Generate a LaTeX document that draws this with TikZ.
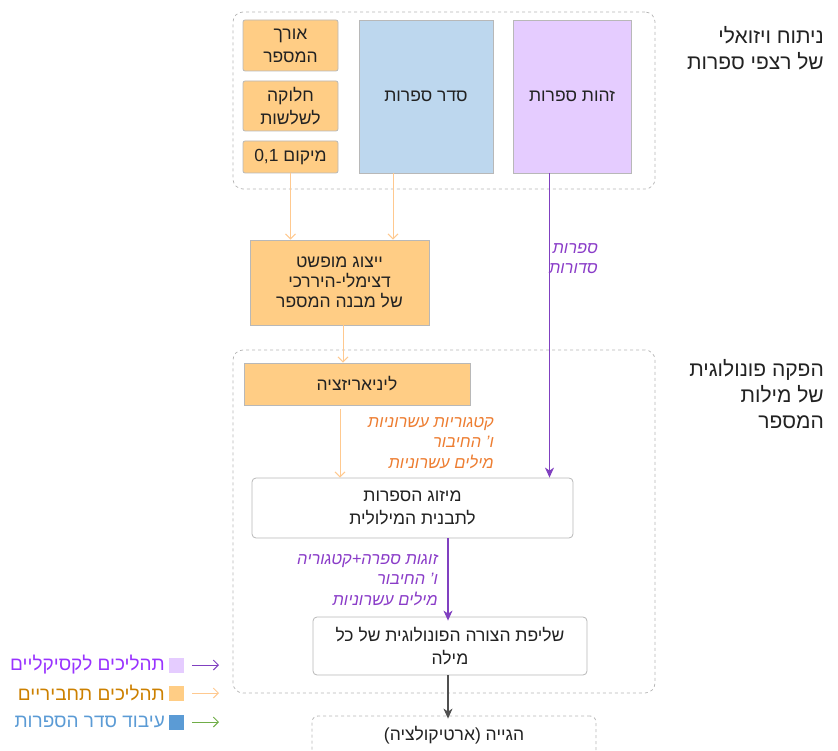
\documentclass[tikz,border=0pt]{standalone}
\usepackage{fontspec}
\setmainfont{Liberation Sans}[Script=Hebrew]
\TeXXeTstate=1
\usetikzlibrary{arrows.meta}
\definecolor{orfill}{HTML}{FFCD85}
\definecolor{blfill}{HTML}{BDD7EE}
\definecolor{pufill}{HTML}{E5CCFF}
\definecolor{bordgr}{HTML}{B8B8B8}
\definecolor{grpgr}{HTML}{B4B4B4}
\definecolor{orarrow}{HTML}{FFC98F}
\definecolor{puarrow}{HTML}{8040C0}
\definecolor{orlabel}{HTML}{ED7D31}
\definecolor{pulabel}{HTML}{8A3CC8}
\definecolor{legpu}{HTML}{9933FF}
\definecolor{legor}{HTML}{CC8000}
\definecolor{legbl}{HTML}{5B9BD5}
\definecolor{leggr}{HTML}{70AD47}
\definecolor{dkarrow}{HTML}{505050}
\definecolor{txt}{HTML}{222222}
\newcommand\Rt[1]{\beginR#1\endR}
\tikzset{
  base/.style={draw=bordgr, line width=0.8pt, text=txt, font=\fontsize{17.5}{23}\selectfont, align=center, inner sep=2pt},
  obox/.style={base, fill=orfill, rounded corners=2pt},
  bbox/.style={base, fill=blfill},
  pbox/.style={base, fill=pufill},
  wbox/.style={base, fill=white, rounded corners=4pt},
  dbox/.style={base, fill=white, rounded corners=6pt, dashed},
  grp/.style={draw=grpgr, dashed, line width=0.7pt, rounded corners=10pt},
  title/.style={align=right, text=txt, font=\fontsize{21}{26}\selectfont, inner sep=0pt},
  lbl/.style={align=right, font=\fontsize{16.5}{20.5}\selectfont\itshape, inner sep=0pt},
  orarr/.style={draw=orarrow, line width=1pt, -{Straight Barb[length=5pt,width=10pt]}},
  puarr/.style={draw=puarrow, line width=1.2pt, -{Stealth[length=10pt,width=9pt,inset=3pt]}},
  dkarr/.style={draw=dkarrow, line width=1.2pt, -{Stealth[length=10pt,width=9pt,inset=3pt]}},
  legtxt/.style={anchor=east, inner sep=0pt, font=\fontsize{19}{22}\selectfont},
}
\begin{document}
\begin{tikzpicture}[x=1pt,y=-1pt]
\useasboundingbox (0,0) rectangle (838,751);
\clip (0,0) rectangle (838,751);
% groups
\node[grp, minimum width=422pt, minimum height=177pt] (g1) at (444,100.5) {};
\node[grp, minimum width=422pt, minimum height=343pt] (g2) at (444,521.5) {};
% top boxes
\node[obox, minimum width=95pt, minimum height=51pt] (len) at (290.5,45.5) {\Rt{אורך}\\\Rt{המספר}};
\node[obox, minimum width=95pt, minimum height=50pt] (split) at (290.5,106) {\Rt{חלוקה}\\\Rt{לשלשות}};
\node[obox, minimum width=95pt, minimum height=32pt] (pos) at (290.5,157) {\Rt{מיקום \beginL 0,1\endL}};
\node[bbox, minimum width=134pt, minimum height=153pt] (order) at (426,96.5) {\Rt{סדר ספרות}};
\node[pbox, minimum width=118pt, minimum height=153pt] (ident) at (572,96.5) {\Rt{זהות ספרות}};
% middle
\node[obox, rounded corners=0pt, minimum width=179pt, minimum height=85pt, font=\fontsize{17.5}{20}\selectfont] (abs) at (339.5,282.5) {\Rt{ייצוג מופשט}\\\Rt{דצימלי-היררכי}\\\Rt{של מבנה המספר}};
\node[obox, rounded corners=0pt, minimum width=226pt, minimum height=42pt] (lin) at (357,384) {\Rt{ליניאריזציה}};
\node[wbox, minimum width=321pt, minimum height=60pt] (miz) at (412.5,508) {\Rt{מיזוג הספרות}\\\Rt{לתבנית המילולית}};
\node[wbox, minimum width=274pt, minimum height=58pt] (ret) at (450,646) {\Rt{שליפת הצורה הפונולוגית של כל}\\\Rt{מילה}};
\node[dbox, minimum width=284pt, minimum height=64pt, text depth=30pt] (art) at (454,748) {\Rt{הגייה (ארטיקולציה)}};
% titles
\node[title, anchor=north east] (t1) at (824,26) {\Rt{ניתוח ויזואלי}\\\Rt{של רצפי ספרות}};
\node[title, anchor=north east] (t2) at (824,359) {\Rt{הפקה פונולוגית}\\\Rt{של מילות}\\\Rt{המספר}};
% arrows
\draw[orarr] (pos.south) -- (pos.south |- abs.north);
\draw[orarr] ([xshift=-33pt]order.south) -- ([xshift=-33pt]order.south |- abs.north);
\draw[orarr] ([xshift=3.5pt]abs.south) -- ([xshift=3.5pt]abs.south |- lin.north);
\draw[orarr] ([xshift=-17pt,yshift=-4pt]lin.south) -- ([xshift=-17pt]lin.south |- miz.north);
\draw[puarr] ([xshift=-22.5pt]ident.south) -- ([xshift=-22.5pt]ident.south |- miz.north);
\draw[puarr] ([xshift=35.5pt]miz.south) -- ([xshift=35.5pt,yshift=-4pt]miz.south |- ret.north);
\draw[dkarr] ([xshift=-2pt]ret.south) -- ([xshift=-2pt,yshift=-3pt]ret.south |- art.north);
% labels
\node[lbl, text=pulabel, anchor=north east] (l1) at (598,243) {\Rt{ספרות}\\\Rt{סדורות}};
\node[lbl, text=orlabel, anchor=north east] (l2) at (494,417) {\Rt{קטגוריות עשרוניות}\\\Rt{ו' החיבור}\\\Rt{מילים עשרוניות}};
\node[lbl, text=pulabel, anchor=north east] (l3) at (438,554) {\Rt{זוגות ספרה+קטגוריה}\\\Rt{ו' החיבור}\\\Rt{מילים עשרוניות}};
% legend
\node[legtxt, text=legpu] (lg1) at (165,665) {\Rt{תהליכים לקסיקליים}};
\node[legtxt, text=legor] (lg2) at (165,693) {\Rt{תהליכים תחביריים}};
\node[legtxt, text=legbl] (lg3) at (165,722) {\Rt{עיבוד סדר הספרות}};
\node[fill=pufill, minimum size=15pt, inner sep=0pt] (sq1) at (176.5,665) {};
\node[fill=orfill, minimum size=15pt, inner sep=0pt] (sq2) at (176.5,693) {};
\node[fill=legbl, minimum size=15pt, inner sep=0pt] (sq3) at (176.5,722) {};
\coordinate (a1s) at (192,665); \coordinate (a1e) at (219,665);
\coordinate (a2s) at (192,693); \coordinate (a2e) at (219,693);
\coordinate (a3s) at (192,722); \coordinate (a3e) at (219,722);
\draw[draw=puarrow, line width=1pt, -{Straight Barb[length=5pt,width=10pt]}] (a1s) -- (a1e);
\draw[draw=orarrow, line width=1pt, -{Straight Barb[length=5pt,width=10pt]}] (a2s) -- (a2e);
\draw[draw=leggr, line width=1pt, -{Straight Barb[length=5pt,width=10pt]}] (a3s) -- (a3e);
\end{tikzpicture}
\end{document}
